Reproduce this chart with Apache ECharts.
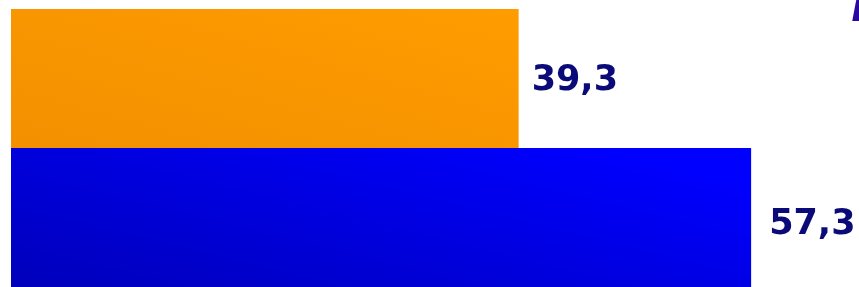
<!DOCTYPE html>
<html>
<head>
<meta charset="utf-8">
<script src="https://cdn.jsdelivr.net/npm/echarts@6/dist/echarts.min.js"></script>
<style>
  html, body { margin: 0; padding: 0; background: #fff; }
  #chart { width: 859px; height: 287px; }
</style>
</head>
<body>
<div id="chart"></div>
<script>
    // bottom bar first (category axis grows upward)
    const categories = ['B', 'A']
    const values = [57.3, 39.3]
    const topColors = ['#0000ff', '#ff9c00']
    const bottomColors = ['#0000bb', '#f29000']
    // gradient end point (normalized to each bar's box), bottom-left -> top-right
    const gradEnd = [[0.09, -0.95], [0.14, -0.86]]

    let chart = echarts.init(document.getElementById('chart'))

    let seriesData = values.map(function (v, i) {
        return {
            value: v,
            itemStyle: {
                color: new echarts.graphic.LinearGradient(0, 1, gradEnd[i][0], gradEnd[i][1], [
                    {offset: 0, color: bottomColors[i]},
                    {offset: 1, color: topColors[i]}
                ])
            },
            label: {
                distance: i === 0 ? 18 : 13,
                offset: i === 0 ? [0, 7] : [0, 2]
            }
        }
    })

    let option = {
        animation: false,
        grid: {
            left: 11,
            top: 9,
            width: 775,
            height: 280
        },
        xAxis: {
            type: 'value',
            min: 0,
            max: 60,
            show: false
        },
        yAxis: {
            type: 'category',
            data: categories,
            show: false
        },
        graphic: [{
            type: 'text',
            left: 851,
            top: -9,
            style: {
                text: 'l',
                fill: '#2a08a0',
                font: 'italic bold 40px "DejaVu Sans"'
            }
        }],
        series: [{
            type: 'bar',
            data: seriesData,
            barCategoryGap: 0,
            label: {
                show: true,
                position: 'right',
                color: '#0a0a78',
                fontFamily: 'DejaVu Sans',
                fontWeight: 'bold',
                fontSize: 35,
                formatter: function (p) {
                    return p.value.toFixed(1).replace('.', ',')
                }
            }
        }]
    }

    chart.setOption(option)
</script>
</body>
</html>
